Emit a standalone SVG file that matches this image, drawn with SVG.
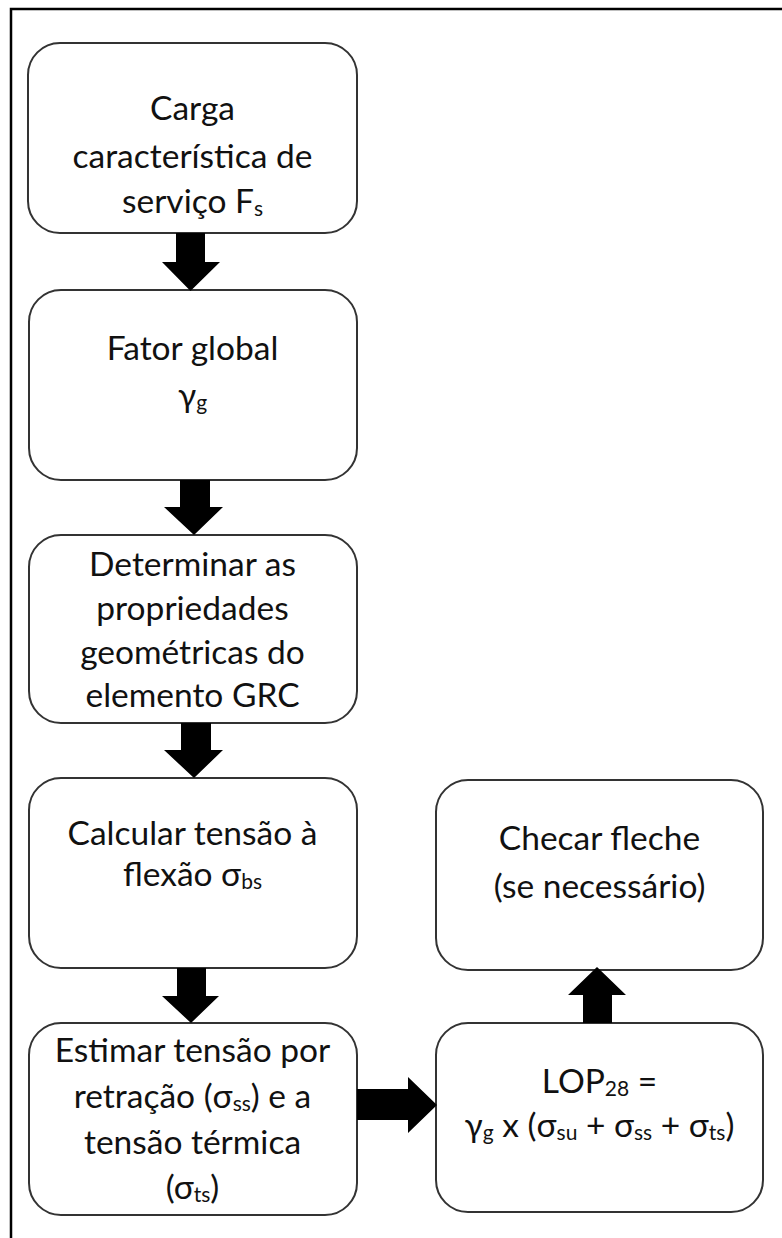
<svg xmlns="http://www.w3.org/2000/svg" width="782" height="1238" viewBox="0 0 782 1238">
<style>
.box{fill:#fff;stroke:#333;stroke-width:2}
.t{font-family:Lato,"Open Sans","Liberation Sans",sans-serif;font-size:33.5px;fill:#111;text-anchor:middle}
.s{font-size:21px}
.ar{fill:#000}
</style>
<rect width="782" height="1238" fill="#fff"/>
<path d="M11,1238 V9 H782" fill="none" stroke="#000" stroke-width="2.5"/>
<g id="n1">
<rect class="box" x="28" y="43" width="329" height="190" rx="32"/>
<text class="t" x="192.5" y="120">Carga</text>
<text class="t" x="192.5" y="168">característica de</text>
<text class="t" x="192.5" y="213">serviço F<tspan class="s" dy="3">s</tspan></text>
</g>
<g id="n2">
<rect class="box" x="29" y="290" width="328" height="190" rx="32"/>
<text class="t" x="192.5" y="360">Fator global</text>
<text class="t" x="192.5" y="407">γ<tspan class="s" dy="3">g</tspan></text>
</g>
<g id="n3">
<rect class="box" x="29" y="535" width="328" height="188" rx="32"/>
<text class="t" x="192.5" y="576">Determinar as</text>
<text class="t" x="192.5" y="620">propriedades</text>
<text class="t" x="192.5" y="664">geométricas do</text>
<text class="t" x="192.5" y="707">elemento GRC</text>
</g>
<g id="n4">
<rect class="box" x="29" y="778" width="328" height="190" rx="32"/>
<text class="t" x="192.5" y="845">Calcular tensão à</text>
<text class="t" x="192.5" y="886">flexão σ<tspan class="s" dy="3">bs</tspan></text>
</g>
<g id="n5">
<rect class="box" x="29" y="1023" width="328" height="192" rx="32"/>
<text class="t" x="192.5" y="1062">Estimar tensão por</text>
<text class="t" x="192.5" y="1108">retração (σ<tspan class="s" dy="3">ss</tspan><tspan dy="-3">) e a</tspan></text>
<text class="t" x="192.5" y="1154">tensão térmica</text>
<text class="t" x="192.5" y="1199">(σ<tspan class="s" dy="3">ts</tspan><tspan dy="-3">)</tspan></text>
</g>
<g id="n6">
<rect class="box" x="436" y="1023" width="327" height="189" rx="32"/>
<text class="t" x="599.5" y="1093">LOP<tspan class="s" dy="3">28</tspan><tspan dy="-3"> =</tspan></text>
<text class="t" x="599.5" y="1137">γ<tspan class="s" dy="3">g</tspan><tspan dy="-3"> x (σ</tspan><tspan class="s" dy="3">su</tspan><tspan dy="-3"> + σ</tspan><tspan class="s" dy="3">ss</tspan><tspan dy="-3"> + σ</tspan><tspan class="s" dy="3">ts</tspan><tspan dy="-3">)</tspan></text>
</g>
<g id="n7">
<rect class="box" x="436" y="780" width="327" height="190" rx="32"/>
<text class="t" x="599.5" y="850">Checar fleche</text>
<text class="t" x="599.5" y="898">(se necessário)</text>
</g>
<g id="connectors">
<path class="ar" d="M176,233 H205 V262 H220 L190.5,291 L162,262 H176 Z"/>
<path class="ar" d="M180,480 H210 V507 H223 L194,535 L164,507 H180 Z"/>
<path class="ar" d="M181,723 H211 V750 H223 L194,778 L164,750 H181 Z"/>
<path class="ar" d="M177,968 H206 V996 H219 L191,1023 L162,996 H177 Z"/>
<path class="ar" d="M357,1089 H408 V1077 L437,1105 L408,1133 V1120 H357 Z"/>
<path class="ar" d="M583,1023 V995 H568 L597,967 L626,995 H612 V1023 Z"/>
</g>
</svg>
